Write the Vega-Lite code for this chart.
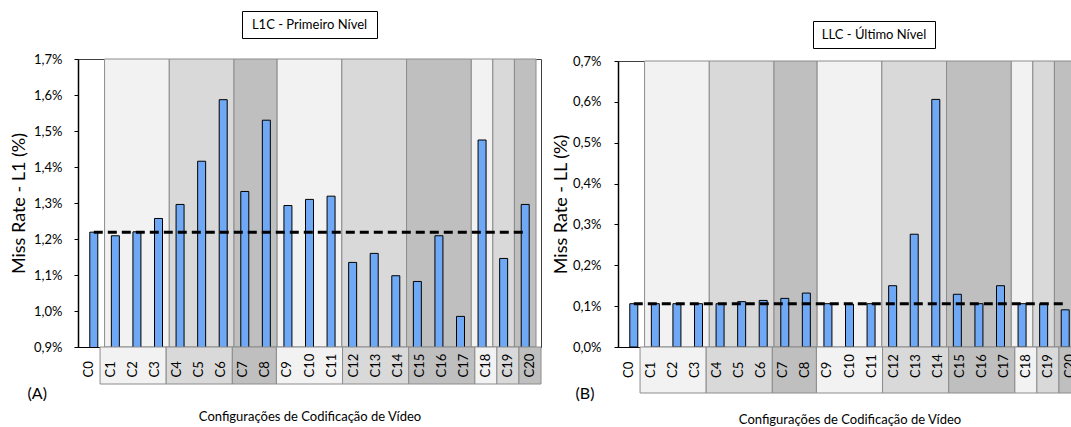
{
  "$schema": "https://vega.github.io/schema/vega-lite/v6.json",
  "padding": {"left": 10, "top": 10, "right": 0, "bottom": 0},
  "background": "white",
  "config": {
    "font": "Lato",
    "view": {"stroke": null},
    "axis": {"labelFont": "Lato", "titleFont": "Lato", "labelColor": "#000", "titleColor": "#000", "grid": false, "labelOverlap": false},
    "title": {"font": "Lato", "fontWeight": "normal", "color": "#000"}
  },
  "datasets": {
    "l1": [
      {"config": "C0", "i": 0, "taxa": 1.219},
      {"config": "C1", "i": 1, "taxa": 1.209},
      {"config": "C2", "i": 2, "taxa": 1.220},
      {"config": "C3", "i": 3, "taxa": 1.257},
      {"config": "C4", "i": 4, "taxa": 1.296},
      {"config": "C5", "i": 5, "taxa": 1.416},
      {"config": "C6", "i": 6, "taxa": 1.587},
      {"config": "C7", "i": 7, "taxa": 1.332},
      {"config": "C8", "i": 8, "taxa": 1.530},
      {"config": "C9", "i": 9, "taxa": 1.293},
      {"config": "C10", "i": 10, "taxa": 1.310},
      {"config": "C11", "i": 11, "taxa": 1.319},
      {"config": "C12", "i": 12, "taxa": 1.135},
      {"config": "C13", "i": 13, "taxa": 1.160},
      {"config": "C14", "i": 14, "taxa": 1.098},
      {"config": "C15", "i": 15, "taxa": 1.082},
      {"config": "C16", "i": 16, "taxa": 1.209},
      {"config": "C17", "i": 17, "taxa": 0.985},
      {"config": "C18", "i": 18, "taxa": 1.475},
      {"config": "C19", "i": 19, "taxa": 1.146},
      {"config": "C20", "i": 20, "taxa": 1.296}
    ],
    "llc": [
      {"config": "C0", "i": 0, "taxa": 0.106},
      {"config": "C1", "i": 1, "taxa": 0.106},
      {"config": "C2", "i": 2, "taxa": 0.106},
      {"config": "C3", "i": 3, "taxa": 0.106},
      {"config": "C4", "i": 4, "taxa": 0.106},
      {"config": "C5", "i": 5, "taxa": 0.111},
      {"config": "C6", "i": 6, "taxa": 0.114},
      {"config": "C7", "i": 7, "taxa": 0.119},
      {"config": "C8", "i": 8, "taxa": 0.132},
      {"config": "C9", "i": 9, "taxa": 0.106},
      {"config": "C10", "i": 10, "taxa": 0.105},
      {"config": "C11", "i": 11, "taxa": 0.106},
      {"config": "C12", "i": 12, "taxa": 0.150},
      {"config": "C13", "i": 13, "taxa": 0.276},
      {"config": "C14", "i": 14, "taxa": 0.606},
      {"config": "C15", "i": 15, "taxa": 0.129},
      {"config": "C16", "i": 16, "taxa": 0.106},
      {"config": "C17", "i": 17, "taxa": 0.150},
      {"config": "C18", "i": 18, "taxa": 0.106},
      {"config": "C19", "i": 19, "taxa": 0.106},
      {"config": "C20", "i": 20, "taxa": 0.091}
    ],
    "grupos": [
      {"ini": 0.5, "fim": 3.5, "tom": "claro"},
      {"ini": 3.5, "fim": 6.5, "tom": "medio"},
      {"ini": 6.5, "fim": 8.5, "tom": "escuro"},
      {"ini": 8.5, "fim": 11.5, "tom": "claro"},
      {"ini": 11.5, "fim": 14.5, "tom": "medio"},
      {"ini": 14.5, "fim": 17.5, "tom": "escuro"},
      {"ini": 17.5, "fim": 18.5, "tom": "claro"},
      {"ini": 18.5, "fim": 19.5, "tom": "medio"},
      {"ini": 19.5, "fim": 20.5, "tom": "escuro"}
    ]
  },
  "hconcat": [
    {
      "vconcat": [
        {
          "width": 135, "height": 27,
          "view": {"stroke": "#000", "strokeWidth": 1, "fill": "#fff"},
          "data": {"values": [{"titulo": "L1C - Primeiro Nível"}]},
          "mark": {"type": "text", "fontSize": 13, "font": "Lato", "color": "#000"},
          "encoding": {"text": {"field": "titulo", "type": "nominal"}}
        },
        {
          "width": 463, "height": 21,
          "data": {"values": []},
          "mark": {"type": "rect"},
          "encoding": {}
        },
        {
          "width": 463, "height": 288,
          "view": {"stroke": "#404040", "strokeWidth": 1},
          "title": {"text": "(A)", "orient": "bottom", "anchor": "start", "frame": "bounds", "offset": 32, "dx": 17, "fontSize": 16},
          "layer": [
            {
              "data": {"name": "grupos"},
              "mark": {"type": "rect", "stroke": "#8c8c8c", "strokeWidth": 1},
              "encoding": {
                "x": {"field": "ini", "type": "quantitative", "title": null, "scale": {"domain": [-0.5, 20.5], "nice": false, "zero": false}},
                "x2": {"field": "fim"},
                "color": {"field": "tom", "type": "nominal", "scale": {"domain": ["claro", "medio", "escuro"], "range": ["#f2f2f2", "#d9d9d9", "#bfbfbf"]}, "legend": null}
              }
            },
            {
              "data": {"name": "l1"},
              "mark": {"type": "bar", "size": 8, "fill": "#6fa8f5", "stroke": "#000", "strokeWidth": 1, "clip": true},
              "encoding": {
                "x": {"field": "i", "type": "quantitative", "title": null, "scale": {"domain": [-0.5, 20.5], "nice": false, "zero": false},
                  "axis": {"labels": false, "ticks": false, "title": null, "domain": true, "domainColor": "#000", "domainWidth": 1}},
                "y": {"field": "taxa", "type": "quantitative", "title": "Miss Rate - L1 (%)", "scale": {"domain": [0.9, 1.7], "nice": false, "zero": false},
                  "axis": {"values": [0.9, 1.0, 1.1, 1.2, 1.3, 1.4, 1.5, 1.6, 1.7], "tickCount": 20, "labelExpr": "replace(format(datum.value, '.1f'), '.', ',') + '%'",
                    "labelOverlap": false, "labelFontSize": 13, "tickSize": 4, "tickColor": "#000", "domainColor": "#000", "domainWidth": 1.5, "labelPadding": 12,
                    "title": "Miss Rate - L1 (%)", "titleFontSize": 18, "titleFontWeight": "normal", "titlePadding": 5}}
              }
            },
            {
              "data": {"name": "l1"},
              "transform": [{"window": [{"op": "first_value", "field": "taxa", "as": "base"}], "sort": [{"field": "i"}]}],
              "mark": {"type": "line", "strokeDash": [9, 5], "strokeWidth": 3, "color": "#000"},
              "encoding": {
                "x": {"field": "i", "type": "quantitative", "title": null, "scale": {"domain": [-0.5, 20.5], "nice": false, "zero": false}},
                "y": {"field": "base", "type": "quantitative", "title": "Miss Rate - L1 (%)"}
              }
            }
          ]
        },
        {
          "width": 463, "height": 37,
          "view": {"stroke": null},
          "layer": [
            {
              "data": {"name": "grupos"},
              "mark": {"type": "rect", "stroke": "#8c8c8c", "strokeWidth": 1},
              "encoding": {
                "x": {"field": "ini", "type": "quantitative", "title": "Configurações de Codificação de Vídeo", "scale": {"domain": [-0.5, 20.5], "nice": false, "zero": false}},
                "x2": {"field": "fim"},
                "color": {"field": "tom", "type": "nominal", "scale": {"domain": ["claro", "medio", "escuro"], "range": ["#f2f2f2", "#d9d9d9", "#bfbfbf"]}, "legend": null}
              }
            },
            {
              "data": {"name": "l1"},
              "mark": {"type": "text", "angle": 270, "align": "left", "baseline": "middle", "dx": -12, "fontSize": 13, "font": "Lato", "color": "#000"},
              "encoding": {
                "x": {"field": "i", "type": "quantitative", "title": "Configurações de Codificação de Vídeo", "scale": {"domain": [-0.5, 20.5], "nice": false, "zero": false},
                  "axis": {"labels": false, "ticks": false, "domain": false, "title": "Configurações de Codificação de Vídeo", "titleFontSize": 13, "titleFontWeight": "normal", "titlePadding": 26}},
                "text": {"field": "config", "type": "nominal"}
              }
            }
          ]
        }
      ],
      "spacing": 0,
      "center": true,
      "bounds": "flush"
    },
    {
      "vconcat": [
        {
          "vconcat": [
            {
              "width": 1, "height": 10,
              "data": {"values": []},
              "mark": {"type": "rect"},
              "encoding": {}
            },
            {
              "hconcat": [
                {
                  "width": 195, "height": 1,
                  "data": {"values": []},
                  "mark": {"type": "rect"},
                  "encoding": {}
                },
                {
                  "width": 122, "height": 27,
                  "view": {"stroke": "#000", "strokeWidth": 1, "fill": "#fff"},
                  "data": {"values": [{"titulo": "LLC - Último Nível"}]},
                  "mark": {"type": "text", "fontSize": 13, "font": "Lato", "color": "#000"},
                  "encoding": {"text": {"field": "titulo", "type": "nominal"}}
                }
              ],
              "spacing": 0,
              "bounds": "flush"
            }
          ],
          "spacing": 0,
          "bounds": "flush"
        },
        {
          "width": 463, "height": 50,
          "data": {"values": []},
          "mark": {"type": "rect"},
          "encoding": {}
        },
        {
          "width": 463, "height": 286,
          "view": {"stroke": "#404040", "strokeWidth": 1},
          "title": {"text": "(B)", "orient": "bottom", "anchor": "start", "frame": "bounds", "offset": 32, "dx": 23, "fontSize": 16},
          "layer": [
            {
              "data": {"name": "grupos"},
              "mark": {"type": "rect", "stroke": "#8c8c8c", "strokeWidth": 1},
              "encoding": {
                "x": {"field": "ini", "type": "quantitative", "title": null, "scale": {"domain": [-0.5, 20.5], "nice": false, "zero": false}},
                "x2": {"field": "fim"},
                "color": {"field": "tom", "type": "nominal", "scale": {"domain": ["claro", "medio", "escuro"], "range": ["#f2f2f2", "#d9d9d9", "#bfbfbf"]}, "legend": null}
              }
            },
            {
              "data": {"name": "llc"},
              "mark": {"type": "bar", "size": 8, "fill": "#6fa8f5", "stroke": "#000", "strokeWidth": 1, "clip": true},
              "encoding": {
                "x": {"field": "i", "type": "quantitative", "title": null, "scale": {"domain": [-0.5, 20.5], "nice": false, "zero": false},
                  "axis": {"labels": false, "ticks": false, "title": null, "domain": true, "domainColor": "#000", "domainWidth": 1}},
                "y": {"field": "taxa", "type": "quantitative", "title": "Miss Rate - LL (%)", "scale": {"domain": [0, 0.7], "nice": false},
                  "axis": {"values": [0, 0.1, 0.2, 0.3, 0.4, 0.5, 0.6, 0.7], "tickCount": 20, "labelExpr": "replace(format(datum.value, '.1f'), '.', ',') + '%'",
                    "labelOverlap": false, "labelFontSize": 13, "tickSize": 4, "tickColor": "#000", "domainColor": "#000", "domainWidth": 1.5, "labelPadding": 13,
                    "title": "Miss Rate - LL (%)", "titleFontSize": 18, "titleFontWeight": "normal", "titlePadding": 2}}
              }
            },
            {
              "data": {"name": "llc"},
              "transform": [{"window": [{"op": "first_value", "field": "taxa", "as": "base"}], "sort": [{"field": "i"}]}],
              "mark": {"type": "line", "strokeDash": [9, 5], "strokeWidth": 3, "color": "#000"},
              "encoding": {
                "x": {"field": "i", "type": "quantitative", "title": null, "scale": {"domain": [-0.5, 20.5], "nice": false, "zero": false}},
                "y": {"field": "base", "type": "quantitative", "title": "Miss Rate - LL (%)"}
              }
            }
          ]
        },
        {
          "width": 463, "height": 46,
          "view": {"stroke": null},
          "layer": [
            {
              "data": {"name": "grupos"},
              "mark": {"type": "rect", "stroke": "#8c8c8c", "strokeWidth": 1},
              "encoding": {
                "x": {"field": "ini", "type": "quantitative", "title": "Configurações de Codificação de Vídeo", "scale": {"domain": [-0.5, 20.5], "nice": false, "zero": false}},
                "x2": {"field": "fim"},
                "color": {"field": "tom", "type": "nominal", "scale": {"domain": ["claro", "medio", "escuro"], "range": ["#f2f2f2", "#d9d9d9", "#bfbfbf"]}, "legend": null}
              }
            },
            {
              "data": {"name": "llc"},
              "mark": {"type": "text", "angle": 270, "align": "left", "baseline": "middle", "dx": -8, "fontSize": 13, "font": "Lato", "color": "#000"},
              "encoding": {
                "x": {"field": "i", "type": "quantitative", "title": "Configurações de Codificação de Vídeo", "scale": {"domain": [-0.5, 20.5], "nice": false, "zero": false},
                  "axis": {"labels": false, "ticks": false, "domain": false, "title": "Configurações de Codificação de Vídeo", "titleFontSize": 13, "titleFontWeight": "normal", "titlePadding": 20}},
                "text": {"field": "config", "type": "nominal"}
              }
            }
          ]
        }
      ],
      "spacing": 0,
      "center": false,
      "bounds": "flush"
    }
  ],
  "spacing": 10
}
